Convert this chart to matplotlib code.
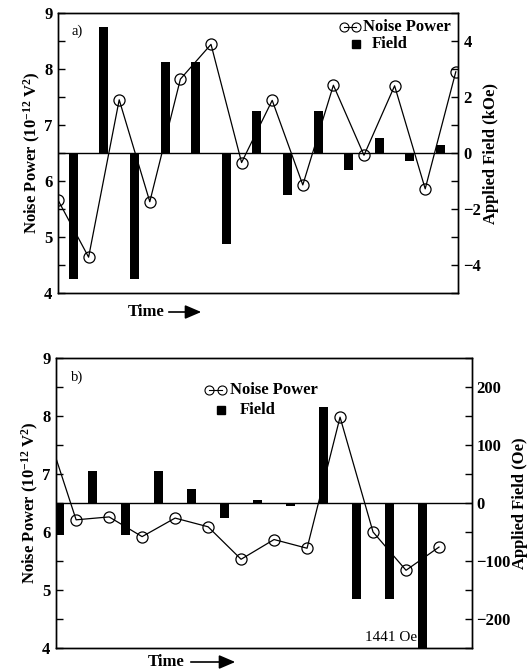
import numpy as np
import matplotlib
matplotlib.use("Agg")
import matplotlib.pyplot as plt
from matplotlib.lines import Line2D
from matplotlib.patches import FancyArrowPatch

plt.rcParams['font.family'] = ['Liberation Serif', 'DejaVu Serif']
plt.rcParams['mathtext.fontset'] = 'custom'
plt.rcParams['mathtext.rm'] = 'Liberation Serif:bold'
plt.rcParams['mathtext.it'] = 'Liberation Serif:italic:bold'
plt.rcParams['mathtext.bf'] = 'Liberation Serif:bold'

# panel a) data
noise_a = [5.66, 4.64, 7.45, 5.63, 7.82, 8.44, 6.33, 7.44, 5.93, 7.71, 6.46, 7.70, 5.86, 7.95]
field_a = [-4.5, 4.5, -4.5, 3.25, 3.25, -3.25, 1.5, -1.5, 1.5, -0.6, 0.55, -0.3, 0.3]

# panel b) data
noise_b = [7.95, 6.21, 6.26, 5.92, 6.24, 6.09, 5.53, 5.87, 5.72, 7.98, 6.00, 5.34, 5.74]
field_b = [-55, 55, -55, 55, 25, -25, 5, -5, 165, -165, -165, -1441]

W, H = 532, 670
FS = 12
fig = plt.figure(figsize=(W / 100, H / 100), dpi=100)


def fx(px):
    return px / W


def fy(py):
    return 1 - py / H


def panel(rect, noise, field, xlim, flim, fmajor, fminor, bar_w, right_label, tag):
    ax = fig.add_axes(rect)
    ax2 = ax.twinx()
    xn = np.arange(len(noise))
    xf = np.arange(len(field)) + 0.5

    ax2.bar(xf, field, width=bar_w, color='black', zorder=2)
    ax2.axhline(0, color='black', lw=1.0, zorder=3)
    ax.plot(xn, noise, color='black', lw=0.9, marker='o', ms=8,
            mfc='none', mec='black', mew=0.9)

    ax.set_zorder(ax2.get_zorder() + 1)
    ax.patch.set_visible(False)

    ax.set_xlim(*xlim)
    ax.set_ylim(4, 9)
    ax2.set_ylim(*flim)
    ax.set_xticks([])
    ax.set_yticks(np.arange(4, 10, 1))
    ax.set_yticks(np.arange(4.5, 9, 1), minor=True)
    ax2.set_yticks(fmajor)
    ax2.set_yticks(fminor, minor=True)

    for a in (ax, ax2):
        a.tick_params(axis='y', which='major', direction='in', length=5,
                      width=1, labelsize=FS, pad=4)
        a.tick_params(axis='y', which='minor', direction='in', length=5, width=1)
        for lab in a.get_yticklabels():
            lab.set_fontweight('bold')
        for s in a.spines.values():
            s.set_linewidth(1)

    ax.set_ylabel(r'Noise Power (10$^{-12}$ V$^2$)', fontsize=FS,
                  fontweight='bold', labelpad=1)
    ax2.set_ylabel(right_label, fontsize=FS, fontweight='bold', labelpad=1)
    ax.text(0.035, 0.935, tag, transform=ax.transAxes, fontsize=10.5,
            va='center', ha='left')
    return ax, ax2


def legend(c1, c2, y1, tx1, sq, y2, tx2):
    # hand-placed legend: two circles joined by a line, then a square
    fig.add_artist(Line2D([fx(c1), fx(c2)], [fy(y1), fy(y1)], transform=fig.transFigure,
                          color='black', lw=0.8, marker='o', ms=6.5,
                          mfc='none', mec='black', mew=0.8))
    fig.text(fx(tx1), fy(y1), 'Noise Power', fontsize=FS, fontweight='bold',
             ha='left', va='center')
    fig.add_artist(Line2D([fx(sq)], [fy(y2)], transform=fig.transFigure,
                          color='black', lw=0, marker='s', ms=5.5))
    fig.text(fx(tx2), fy(y2), 'Field', fontsize=FS, fontweight='bold',
             ha='left', va='center')


# panel a
ax_a, ax2_a = panel(
    [58 / W, 1 - 293 / H, 400 / W, 280 / H], noise_a, field_a,
    (0, 400 / 30.6), (-5, 5), [-4, -2, 0, 2, 4], [-5, -3, -1, 1, 3, 5],
    0.3, 'Applied Field (kOe)', 'a)')
legend(344, 356, 27, 363, 356, 44, 372)

# panel b
ax_b, ax2_b = panel(
    [56 / W, 1 - 648 / H, 416 / W, 290 / H], noise_b, field_b,
    (0.39, 13.0), (-250, 250), [-200, -100, 0, 100, 200],
    [-250, -150, -50, 50, 150, 250], 0.28, 'Applied Field (Oe)', 'b)')
ax2_b.tick_params(axis='y', which='major', pad=3)
legend(209, 222, 390, 230, 221, 410, 240)
ax2_b.text(11.33, -243, '1441 Oe', fontsize=11, ha='right', va='bottom')

# "Time ->" labels
for tx, a0, a1, ty in [(128, 166, 204, 312), (148, 188, 238, 662)]:
    fig.text(fx(tx), fy(ty), 'Time', fontsize=FS, fontweight='bold',
             ha='left', va='center')
    fig.add_artist(FancyArrowPatch(
        (fx(a0), fy(ty)), (fx(a1), fy(ty)), transform=fig.transFigure,
        arrowstyle='-|>,head_length=0.7,head_width=0.3', mutation_scale=14,
        color='black', lw=1.2))

fig.savefig('out.png', dpi=100)
